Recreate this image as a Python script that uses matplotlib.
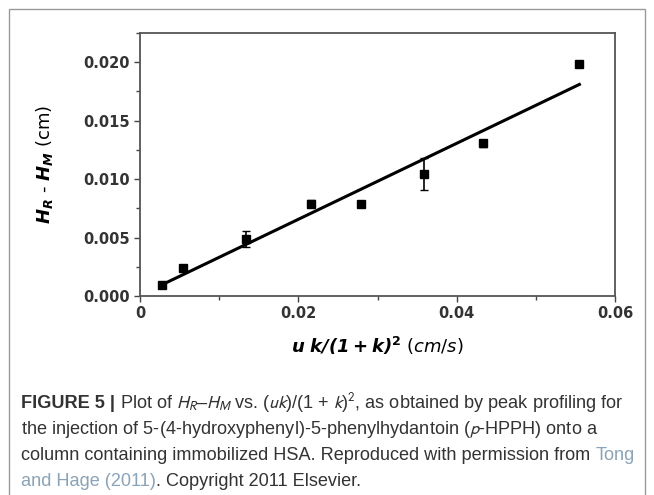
import matplotlib
matplotlib.use('Agg')
import matplotlib.pyplot as plt
from matplotlib.patches import Rectangle
from matplotlib.ticker import MultipleLocator, FormatStrFormatter

# data
x_vals = [0.0028, 0.0054, 0.0134, 0.0216, 0.0279, 0.0359, 0.0433, 0.0555]
y_vals = [0.00097, 0.0024, 0.00486, 0.0079, 0.0079, 0.01043, 0.01306, 0.01986]
y_err = [0.0, 0.0, 0.0007, 0.0003, 0.0, 0.0014, 0.0003, 0.0]
fit_x = [0.0028, 0.0555]
fit_y = [0.00097, 0.0181]

x_ticks = [0, 0.02, 0.04, 0.06]
x_ticklabels = ["0", "0.02", "0.04", "0.06"]
y_ticks = [0.000, 0.005, 0.010, 0.015, 0.020]

W, H = 654, 495
fig = plt.figure(figsize=(W / 100, H / 100), dpi=100)

# outer light frame around the whole panel
fig.add_artist(Rectangle((9 / W, -0.05), (645 - 9) / W, 1.05 - 9 / H,
                         transform=fig.transFigure, fill=False,
                         edgecolor="#9a9a9a", linewidth=1.0))

ax = fig.add_axes([140 / W, 1 - 296 / H, (615 - 140) / W, (296 - 33) / H])

ax.plot(fit_x, fit_y, color="black", linewidth=2.2, zorder=2)
ax.errorbar(x_vals, y_vals, yerr=y_err, fmt="s", color="black",
            markersize=6, ecolor="black", elinewidth=1.2, capsize=3,
            capthick=1.0, zorder=3)

ax.set_xlim(0, 0.06)
ax.set_ylim(0, 0.0225)
ax.set_xticks(x_ticks)
ax.set_xticklabels(x_ticklabels)
ax.set_yticks(y_ticks)
ax.yaxis.set_major_formatter(FormatStrFormatter("%.3f"))
ax.xaxis.set_minor_locator(MultipleLocator(0.01))
ax.yaxis.set_minor_locator(MultipleLocator(0.0025))

ax.tick_params(which="both", direction="out", colors="#444444",
               labelcolor="#333333", labelsize=10.5, width=1.0)
ax.tick_params(which="major", length=4)
ax.tick_params(which="minor", length=3)
for lab in ax.get_xticklabels() + ax.get_yticklabels():
    lab.set_fontweight("bold")
for sp in ax.spines.values():
    sp.set_color("#555555")
    sp.set_linewidth(1.3)

ax.set_ylabel(r"$\mathbfit{H_R}$ - $\mathbfit{H_M}$ (cm)",
              fontsize=13, math_fontfamily="dejavusans", labelpad=20)
ax.set_xlabel(r"$\mathbfit{u\ k/(1+k)}$$\mathbf{^2}$ $\mathit{(cm/s)}$",
              fontsize=13, math_fontfamily="dejavusans", labelpad=10)

# caption, drawn piece by piece so colours and weights can change inside a line
renderer = fig.canvas.get_renderer()
cap_kw = dict(fontsize=13.1, family="Liberation Sans", color="#333333",
              math_fontfamily="stixsans")
link = "#8aa3b8"


def text_width(txt, **extra):
    kw = dict(cap_kw)
    kw.update(extra)
    t = fig.text(0, 0, txt, **kw)
    w = t.get_window_extent(renderer).width
    t.remove()
    return w


def draw_line(pieces, x_px, y_px):
    for txt, extra in pieces:
        kw = dict(cap_kw)
        kw.update(extra)
        fig.text(x_px / W, 1 - y_px / H, txt, va="baseline", **kw)
        x_px += text_width(txt, **extra)


sp_w = text_width("a a") - text_width("aa")

x0 = 21
draw_line([("FIGURE 5 |", dict(fontweight="bold"))], x0, 408)
draw_line([(r"Plot of $H_R$–$H_M$ vs. ($uk$)/(1 + $k$)$^2$, as obtained by peak profiling for", {})],
          x0 + text_width("FIGURE 5 |", fontweight="bold") + sp_w, 408)
draw_line([("the injection of 5-(4-hydroxyphenyl)-5-phenylhydantoin ($p$-HPPH) onto a", {})], x0, 434)
line3 = "column containing immobilized HSA. Reproduced with permission from"
draw_line([(line3, {})], x0, 460)
draw_line([("Tong", dict(color=link))], x0 + text_width(line3) + sp_w, 460)
draw_line([("and Hage (2011)", dict(color=link)), (". Copyright 2011 Elsevier.", {})], x0, 486)

fig.savefig("out.png", dpi=100)
